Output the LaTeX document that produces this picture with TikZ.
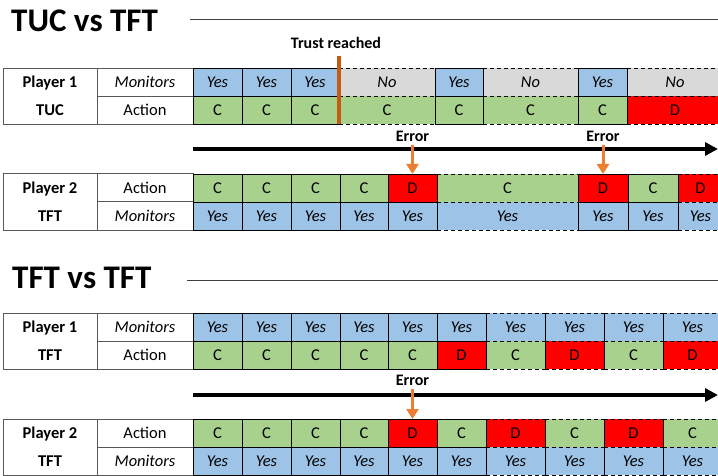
\documentclass[tikz,border=0pt]{standalone}
\usepackage{fontspec}
\setmainfont{Carlito}
\usetikzlibrary{arrows.meta}
\definecolor{yesblue}{HTML}{9DC3E6}
\definecolor{nogray}{HTML}{D9D9D9}
\definecolor{cgreen}{HTML}{A9D18E}
\definecolor{dred}{HTML}{FF0000}
\definecolor{trustorange}{HTML}{C55A11}
\definecolor{errororange}{HTML}{ED7D31}
\tikzset{
  celltext/.style={inner sep=0pt, outer sep=0pt, text height=11pt, text depth=0pt,
    font=\fontsize{16.5}{18}\selectfont},
  cell/.style={celltext, minimum height=28pt},
  yescell/.style={cell, fill=yesblue, font=\fontsize{16.5}{18}\selectfont\itshape},
  nocell/.style={cell, fill=nogray, font=\fontsize{16.5}{18}\selectfont\itshape},
  ccell/.style={cell, fill=cgreen},
  dcell/.style={cell, fill=dred},
  cellline/.style={draw=black, line width=0.8pt},
  solidedge/.style={draw=black, line width=0.8pt},
  dashedge/.style={append after command={
      (\tikzlastnode.north west) edge[cellline, dash pattern=on 4pt off 3pt] (\tikzlastnode.north east)
      (\tikzlastnode.south west) edge[cellline, dash pattern=on 4pt off 3pt] (\tikzlastnode.south east)
      (\tikzlastnode.south west) edge[cellline] (\tikzlastnode.north west)}},
  labelbox/.style={draw=black!65, line width=1pt, minimum height=56pt, inner sep=0pt,
    outer sep=0pt, anchor=north west},
  labelline/.style={draw=black!65, line width=1pt},
  labeltext/.style={celltext, font=\fontsize{16.5}{18}\selectfont\bfseries},
  heading/.style={inner sep=0pt, anchor=base west, font=\fontsize{33}{36}\selectfont\bfseries},
  ruleline/.style={draw=black!75, line width=0.8pt},
  marktext/.style={celltext, font=\fontsize{16}{18}\selectfont\bfseries},
  timearrow/.style={line width=4pt, -{Triangle[length=13pt,width=13pt]}},
  errorarrow/.style={errororange, line width=3pt, -{Triangle[length=10pt,width=12pt]}},
  trustline/.style={trustorange, line width=4.5pt},
}
\begin{document}
\begin{tikzpicture}[x=1pt,y=-1pt]
  \path[use as bounding box] (0,0) rectangle (718,476);
  \clip (0,0) rectangle (718,476);
  % headings
  \node[heading] (tuc) at (11,32) {TUC vs TFT};
  \coordinate (ruleA) at (190,19);
  \draw[ruleline] (ruleA) -- (718,19);
  \node[heading] (tft) at (12,288) {TFT vs TFT};
  \coordinate (ruleC) at (187,280);
  \draw[ruleline] (ruleC) -- (718,280);
  % player labels
  \foreach \tab/\yt/\who/\strat/\rowa/\rowb in {A/68.5/Player 1/TUC/\textit{Monitors}/Action,
      B/174/Player 2/TFT/Action/\textit{Monitors}, C/313/Player 1/TFT/\textit{Monitors}/Action,
      D/419/Player 2/TFT/Action/\textit{Monitors}}{
    \node[labelbox, minimum width=94pt] (\tab-who) at (3,\yt) {};
    \node[labelbox, minimum width=96pt] (\tab-what) at (97,\yt) {};
    \draw[labelline] (\tab-what.west) -- (\tab-what.east);
    \node[labeltext] (\tab-player) at ([yshift=14pt]\tab-who.center) {\who};
    \node[labeltext] (\tab-strat) at ([yshift=-14pt]\tab-who.center) {\strat};
    \node[celltext] (\tab-row1) at ([yshift=14pt]\tab-what.center) {\rowa};
    \node[celltext] (\tab-row2) at ([yshift=-14pt]\tab-what.center) {\rowb};
  }
  % TUC vs TFT, player 1
  \foreach \xa/\xb/\kind/\border/\txt [count=\i] in {193/242/yescell/solidedge/Yes,
      242/291/yescell/solidedge/Yes, 291/339/yescell/solidedge/Yes, 339/435/nocell/dashedge/No,
      435/483/yescell/solidedge/Yes, 483/578/nocell/dashedge/No, 578/627/yescell/solidedge/Yes,
      627/723/nocell/dashedge/No}
    \node[\kind,\border,minimum width={(\xb-\xa)*1pt}] (A1-\i) at ({(\xa+\xb)/2},82.5) {\txt};
  \foreach \xa/\xb/\kind/\border/\txt [count=\i] in {193/242/ccell/solidedge/C,
      242/291/ccell/solidedge/C, 291/339/ccell/solidedge/C, 339/435/ccell/dashedge/C,
      435/483/ccell/solidedge/C, 483/578/ccell/dashedge/C, 578/627/ccell/solidedge/C,
      627/723/dcell/dashedge/D}
    \node[\kind,\border,minimum width={(\xb-\xa)*1pt}] (A2-\i) at ({(\xa+\xb)/2},110.5) {\txt};
  % TUC vs TFT, player 2
  \foreach \xa/\xb/\kind/\border/\txt [count=\i] in {193/242/ccell/solidedge/C,
      242/291/ccell/solidedge/C, 291/340/ccell/solidedge/C, 340/388/ccell/solidedge/C,
      388/437/dcell/solidedge/D, 437/578/ccell/dashedge/C, 578/628/dcell/solidedge/D,
      628/678/ccell/solidedge/C, 678/723/dcell/dashedge/D}
    \node[\kind,\border,minimum width={(\xb-\xa)*1pt}] (B1-\i) at ({(\xa+\xb)/2},188) {\txt};
  \foreach \xa/\xb/\kind/\border/\txt [count=\i] in {193/242/yescell/solidedge/Yes,
      242/291/yescell/solidedge/Yes, 291/340/yescell/solidedge/Yes, 340/388/yescell/solidedge/Yes,
      388/437/yescell/solidedge/Yes, 437/578/yescell/dashedge/Yes, 578/628/yescell/solidedge/Yes,
      628/678/yescell/solidedge/Yes, 678/723/yescell/dashedge/Yes}
    \node[\kind,\border,minimum width={(\xb-\xa)*1pt}] (B2-\i) at ({(\xa+\xb)/2},216) {\txt};
  % TFT vs TFT, player 1
  \foreach \xa/\xb/\kind/\border/\txt [count=\i] in {193/242/yescell/solidedge/Yes,
      242/291/yescell/solidedge/Yes, 291/340/yescell/solidedge/Yes, 340/388/yescell/solidedge/Yes,
      388/437/yescell/solidedge/Yes, 437/486/yescell/solidedge/Yes, 486/545/yescell/dashedge/Yes,
      545/604/yescell/dashedge/Yes, 604/663/yescell/dashedge/Yes, 663/722/yescell/dashedge/Yes}
    \node[\kind,\border,minimum width={(\xb-\xa)*1pt}] (C1-\i) at ({(\xa+\xb)/2},327) {\txt};
  \foreach \xa/\xb/\kind/\border/\txt [count=\i] in {193/242/ccell/solidedge/C,
      242/291/ccell/solidedge/C, 291/340/ccell/solidedge/C, 340/388/ccell/solidedge/C,
      388/437/ccell/solidedge/C, 437/486/dcell/solidedge/D, 486/545/ccell/dashedge/C,
      545/604/dcell/dashedge/D, 604/663/ccell/dashedge/C, 663/722/dcell/dashedge/D}
    \node[\kind,\border,minimum width={(\xb-\xa)*1pt}] (C2-\i) at ({(\xa+\xb)/2},355) {\txt};
  % TFT vs TFT, player 2
  \foreach \xa/\xb/\kind/\border/\txt [count=\i] in {193/242/ccell/solidedge/C,
      242/291/ccell/solidedge/C, 291/340/ccell/solidedge/C, 340/388/ccell/solidedge/C,
      388/437/dcell/solidedge/D, 437/486/ccell/solidedge/C, 486/545/dcell/dashedge/D,
      545/604/ccell/dashedge/C, 604/663/dcell/dashedge/D, 663/722/ccell/dashedge/C}
    \node[\kind,\border,minimum width={(\xb-\xa)*1pt}] (D1-\i) at ({(\xa+\xb)/2},433) {\txt};
  \foreach \xa/\xb/\kind/\border/\txt [count=\i] in {193/242/yescell/solidedge/Yes,
      242/291/yescell/solidedge/Yes, 291/340/yescell/solidedge/Yes, 340/388/yescell/solidedge/Yes,
      388/437/yescell/solidedge/Yes, 437/486/yescell/solidedge/Yes, 486/545/yescell/dashedge/Yes,
      545/604/yescell/dashedge/Yes, 604/663/yescell/dashedge/Yes, 663/722/yescell/dashedge/Yes}
    \node[\kind,\border,minimum width={(\xb-\xa)*1pt}] (D2-\i) at ({(\xa+\xb)/2},461) {\txt};
  % trust and time
  \node[marktext] (trust) at (336,43) {Trust reached};
  \coordinate (trusttop) at (339,56);
  \draw[trustline] (trusttop) -- (A2-4.south west);
  \coordinate (timeA) at (193,149);
  \coordinate (timeB) at (718,149);
  \draw[timearrow] (timeA) -- (timeB);
  \coordinate (timeC) at (193,395);
  \coordinate (timeD) at (718,395);
  \draw[timearrow] (timeC) -- (timeD);
  % errors
  \node[marktext] (errB1) at (412.5,136) {Error};
  \node[marktext] (errB2) at (603,136) {Error};
  \node[marktext] (errD) at (412.5,380) {Error};
  \draw[errorarrow] ([yshift=-3.5pt]errB1.south) -- (B1-5.north);
  \draw[errorarrow] ([yshift=-3.5pt]errB2.south) -- (B1-7.north);
  \draw[errorarrow] ([yshift=-3.5pt]errD.south) -- (D1-5.north);
\end{tikzpicture}
\end{document}
